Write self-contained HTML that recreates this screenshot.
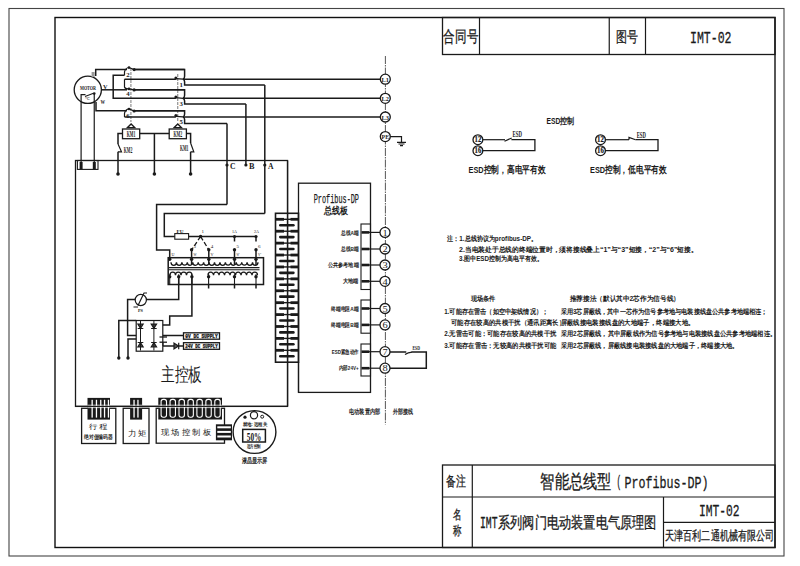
<!DOCTYPE html><html><head><meta charset="utf-8"><style>html,body{margin:0;padding:0;background:#fff;width:800px;height:566px;overflow:hidden}svg{display:block}</style></head><body>
<svg width="800" height="566" viewBox="0 0 800 566" font-family="Liberation Sans, sans-serif">
<rect x="0" y="0" width="800" height="566" fill="#fff"/>
<rect x="9" y="8.5" width="775" height="547.5" fill="none" stroke="#444" stroke-width="1.1" />
<rect x="55" y="17.5" width="720" height="530" fill="none" stroke="#111" stroke-width="1.4" />
<rect x="442.5" y="17.5" width="332.5" height="37" fill="none" stroke="#1a1a1a" stroke-width="1.3" />
<line x1="479.5" y1="17.5" x2="479.5" y2="54.5" stroke="#1a1a1a" stroke-width="1.2" />
<line x1="609.25" y1="17.5" x2="609.25" y2="54.5" stroke="#1a1a1a" stroke-width="1.2" />
<line x1="645.5" y1="17.5" x2="645.5" y2="54.5" stroke="#1a1a1a" stroke-width="1.2" />
<text x="443.4" y="42.27" font-family="Liberation Sans" font-size="16.3" font-weight="normal" fill="#1a1a1a" text-anchor="start" stroke="#1a1a1a" stroke-width="0.3" textLength="34.7" lengthAdjust="spacingAndGlyphs">合同号</text>
<text x="616.4" y="42.40" font-family="Liberation Sans" font-size="15" font-weight="normal" fill="#1a1a1a" text-anchor="start" stroke="#1a1a1a" stroke-width="0.3" textLength="21.9" lengthAdjust="spacingAndGlyphs">图号</text>
<text x="690" y="43.23" font-family="Liberation Mono" font-size="17.3" font-weight="normal" fill="#1a1a1a" text-anchor="start" stroke="#1a1a1a" stroke-width="0.3" textLength="41.5" lengthAdjust="spacingAndGlyphs">IMT-02</text>
<rect x="442.5" y="465" width="332.5" height="82.5" fill="none" stroke="#1a1a1a" stroke-width="1.3" />
<line x1="442.5" y1="497" x2="775" y2="497" stroke="#1a1a1a" stroke-width="1.2" />
<line x1="472.3" y1="465" x2="472.3" y2="547.5" stroke="#1a1a1a" stroke-width="1.2" />
<line x1="663.5" y1="497" x2="663.5" y2="547.5" stroke="#1a1a1a" stroke-width="1.2" />
<line x1="663.5" y1="522.3" x2="775" y2="522.3" stroke="#1a1a1a" stroke-width="1.2" />
<text x="446.4" y="486.04" font-family="Liberation Sans" font-size="14" font-weight="normal" fill="#1a1a1a" text-anchor="start" stroke="#1a1a1a" stroke-width="0.3" textLength="19.8" lengthAdjust="spacingAndGlyphs">备注</text>
<text x="452.7" y="519.29" font-family="Liberation Sans" font-size="13.3" font-weight="normal" fill="#1a1a1a" text-anchor="start" stroke="#1a1a1a" stroke-width="0.3" textLength="8.5" lengthAdjust="spacingAndGlyphs">名</text>
<text x="452.7" y="534.79" font-family="Liberation Sans" font-size="13.3" font-weight="normal" fill="#1a1a1a" text-anchor="start" stroke="#1a1a1a" stroke-width="0.3" textLength="8.5" lengthAdjust="spacingAndGlyphs">称</text>
<text x="540.4" y="487.77" font-family="Liberation Sans" font-size="18.8" font-weight="normal" fill="#1a1a1a" text-anchor="start" stroke="#1a1a1a" stroke-width="0.3" textLength="71" lengthAdjust="spacingAndGlyphs">智能总线型</text>
<text x="616.5" y="487.32" font-family="Liberation Mono" font-size="17" font-weight="normal" fill="#1a1a1a" text-anchor="start" stroke="#1a1a1a" stroke-width="0.3" textLength="4.8" lengthAdjust="spacingAndGlyphs">(</text>
<text x="624.6" y="487.52" font-family="Liberation Mono" font-size="17" font-weight="normal" fill="#1a1a1a" text-anchor="start" stroke="#1a1a1a" stroke-width="0.3" textLength="84" lengthAdjust="spacingAndGlyphs">Profibus-DP)</text>
<text x="480" y="527.96" font-family="Liberation Mono" font-size="16" font-weight="normal" fill="#1a1a1a" text-anchor="start" stroke="#1a1a1a" stroke-width="0.35" textLength="17.5" lengthAdjust="spacingAndGlyphs">IMT</text>
<text x="498" y="528.37" font-family="Liberation Sans" font-size="16.3" font-weight="normal" fill="#1a1a1a" text-anchor="start" stroke="#1a1a1a" stroke-width="0.3" textLength="158.5" lengthAdjust="spacingAndGlyphs">系列阀门电动装置电气原理图</text>
<text x="699" y="515.73" font-family="Liberation Mono" font-size="17.3" font-weight="normal" fill="#1a1a1a" text-anchor="start" stroke="#1a1a1a" stroke-width="0.3" textLength="40.6" lengthAdjust="spacingAndGlyphs">IMT-02</text>
<text x="665.2" y="539.68" font-family="Liberation Sans" font-size="13" font-weight="normal" fill="#1a1a1a" text-anchor="start" stroke="#1a1a1a" stroke-width="0.3" textLength="108.8" lengthAdjust="spacingAndGlyphs">天津百利二通机械有限公司</text>
<circle cx="87.8" cy="89.8" r="13.6" fill="none" stroke="#1a1a1a" stroke-width="1.3"/>
<text x="80" y="89.82" font-family="Liberation Serif" font-size="7" font-weight="bold" fill="#1a1a1a" text-anchor="start"  textLength="16" lengthAdjust="spacingAndGlyphs">MOTOR</text>
<polyline points="81.1,162 81.1,94.6 85.5,94.6" fill="none" stroke="#1a1a1a" stroke-width="1.2" stroke-linejoin="miter" />
<path d="M85,96.5 L93.5,93.2" fill="none" stroke="#1a1a1a" stroke-width="1.1" />
<polyline points="94.25,93.5 94.25,162" fill="none" stroke="#1a1a1a" stroke-width="1.2" stroke-linejoin="miter" />
<circle cx="94.25" cy="93.6" r="1.3" fill="#1a1a1a"/>
<text x="84.5" y="99.64" font-family="Liberation Sans" font-size="4" font-weight="normal" fill="#1a1a1a" text-anchor="start"  textLength="5" lengthAdjust="spacingAndGlyphs">℃</text>
<rect x="91.6" y="72" width="3" height="5" fill="#999"/>
<text x="103" y="88.82" font-family="Liberation Serif" font-size="7" font-weight="bold" fill="#1a1a1a" text-anchor="start"  textLength="4.5" lengthAdjust="spacingAndGlyphs">V</text>
<text x="100.5" y="103.82" font-family="Liberation Serif" font-size="7" font-weight="bold" fill="#1a1a1a" text-anchor="start"  textLength="4.5" lengthAdjust="spacingAndGlyphs">W</text>
<line x1="130.9" y1="68" x2="130.9" y2="122" stroke="#999" stroke-width="1.3" stroke-dasharray="3,1"/>
<line x1="177.7" y1="74" x2="177.7" y2="122" stroke="#999" stroke-width="1.3" stroke-dasharray="3,1"/>
<polyline points="95.7,76 95.7,69.4 127,69.4" fill="none" stroke="#1a1a1a" stroke-width="1.5" stroke-linejoin="miter" />
<line x1="101.5" y1="89.8" x2="127" y2="89.8" stroke="#1a1a1a" stroke-width="1.5" />
<polyline points="96,102 96,110.8 127,110.8" fill="none" stroke="#1a1a1a" stroke-width="1.5" stroke-linejoin="miter" />
<path d="M124.5,75.2 L124.5,71.9 Q125.5,67.80000000000001 129,67.5 L134.1,69.60000000000001" fill="none" stroke="#1a1a1a" stroke-width="1.2" />
<circle cx="129" cy="67.60000000000001" r="1.3" fill="#1a1a1a"/>
<circle cx="134.1" cy="69.60000000000001" r="1.6" fill="#1a1a1a"/>
<text x="126.3" y="76.52" font-family="Liberation Serif" font-size="7" font-weight="bold" fill="#1a1a1a" text-anchor="start"  textLength="3.4" lengthAdjust="spacingAndGlyphs">2</text>
<path d="M124.5,116.9 L124.5,113.3 Q125.5,109.2 129,108.89999999999999 L134.1,111.0" fill="none" stroke="#1a1a1a" stroke-width="1.2" />
<circle cx="129" cy="109.0" r="1.3" fill="#1a1a1a"/>
<circle cx="134.1" cy="111.0" r="1.6" fill="#1a1a1a"/>
<text x="126.3" y="117.92" font-family="Liberation Serif" font-size="7" font-weight="bold" fill="#1a1a1a" text-anchor="start"  textLength="3.4" lengthAdjust="spacingAndGlyphs">6</text>
<path d="M124.5,79.3 L124.5,87 Q125,89.2 129,88.9 L134.1,89.9" fill="none" stroke="#1a1a1a" stroke-width="1.2" />
<circle cx="129" cy="88.9" r="1.3" fill="#1a1a1a"/>
<circle cx="134.1" cy="89.9" r="1.6" fill="#1a1a1a"/>
<text x="126.3" y="96.32" font-family="Liberation Serif" font-size="7" font-weight="bold" fill="#1a1a1a" text-anchor="start"  textLength="3.4" lengthAdjust="spacingAndGlyphs">4</text>
<line x1="134.1" y1="69.4" x2="184.6" y2="69.4" stroke="#1a1a1a" stroke-width="1.5" />
<line x1="134.1" y1="89.8" x2="184.6" y2="89.8" stroke="#1a1a1a" stroke-width="1.5" />
<line x1="134.1" y1="110.8" x2="184.6" y2="110.8" stroke="#1a1a1a" stroke-width="1.5" />
<polyline points="124.5,75.2 113.2,75.2 113.2,98.3 175.9,98.3" fill="none" stroke="#1a1a1a" stroke-width="1.5" stroke-linejoin="miter" />
<line x1="124.5" y1="79.2" x2="175.9" y2="79.2" stroke="#1a1a1a" stroke-width="1.5" />
<line x1="124.5" y1="116.9" x2="175.9" y2="116.9" stroke="#1a1a1a" stroke-width="1.5" />
<circle cx="175.9" cy="77.9" r="1.5" fill="#1a1a1a"/>
<line x1="175.9" y1="78.60000000000001" x2="183" y2="79.2" stroke="#1a1a1a" stroke-width="1.2" />
<path d="M134,69.4 L184.6,69.4 L184.6,76.2 Q184.6,78.60000000000001 183,79.2" fill="none" stroke="#1a1a1a" stroke-width="1.5" />
<path d="M183,79.2 Q184.6,80.0 184.6,81.8 L184.6,85 L264.8,85" fill="none" stroke="#1a1a1a" stroke-width="1.5" />
<text x="179.6" y="86.52" font-family="Liberation Serif" font-size="7" font-weight="bold" fill="#1a1a1a" text-anchor="start"  textLength="3.4" lengthAdjust="spacingAndGlyphs">1</text>
<circle cx="175.9" cy="97.0" r="1.5" fill="#1a1a1a"/>
<line x1="175.9" y1="97.7" x2="183" y2="98.3" stroke="#1a1a1a" stroke-width="1.2" />
<path d="M134,89.8 L184.6,89.8 L184.6,95.3 Q184.6,97.7 183,98.3" fill="none" stroke="#1a1a1a" stroke-width="1.5" />
<path d="M183,98.3 Q184.6,99.1 184.6,100.89999999999999 L184.6,104 L245.9,104" fill="none" stroke="#1a1a1a" stroke-width="1.5" />
<text x="179.6" y="105.62" font-family="Liberation Serif" font-size="7" font-weight="bold" fill="#1a1a1a" text-anchor="start"  textLength="3.4" lengthAdjust="spacingAndGlyphs">3</text>
<circle cx="175.9" cy="115.60000000000001" r="1.5" fill="#1a1a1a"/>
<line x1="175.9" y1="116.30000000000001" x2="183" y2="116.9" stroke="#1a1a1a" stroke-width="1.2" />
<path d="M134,110.8 L184.6,110.8 L184.6,113.9 Q184.6,116.30000000000001 183,116.9" fill="none" stroke="#1a1a1a" stroke-width="1.5" />
<path d="M183,116.9 Q184.6,117.7 184.6,119.5 L184.6,123.5 L227,123.5" fill="none" stroke="#1a1a1a" stroke-width="1.5" />
<text x="179.6" y="124.22" font-family="Liberation Serif" font-size="7" font-weight="bold" fill="#1a1a1a" text-anchor="start"  textLength="3.4" lengthAdjust="spacingAndGlyphs">5</text>
<line x1="183" y1="79.2" x2="380.2" y2="79.2" stroke="#1a1a1a" stroke-width="1.5" />
<line x1="183" y1="98.3" x2="380.2" y2="98.3" stroke="#1a1a1a" stroke-width="1.5" />
<line x1="183" y1="116.9" x2="380.2" y2="116.9" stroke="#1a1a1a" stroke-width="1.5" />
<line x1="264.8" y1="85" x2="264.8" y2="213.6" stroke="#1a1a1a" stroke-width="1.5" />
<line x1="245.9" y1="104" x2="245.9" y2="165" stroke="#1a1a1a" stroke-width="1.5" />
<line x1="227" y1="123.5" x2="227" y2="204.4" stroke="#1a1a1a" stroke-width="1.5" />
<circle cx="227" cy="165" r="1.6" fill="#1a1a1a"/>
<circle cx="245.9" cy="165" r="1.6" fill="#1a1a1a"/>
<circle cx="264.8" cy="165" r="1.6" fill="#1a1a1a"/>
<text x="230" y="169.24" font-family="Liberation Serif" font-size="9" font-weight="bold" fill="#1a1a1a" text-anchor="start"  textLength="5.5" lengthAdjust="spacingAndGlyphs">C</text>
<text x="249" y="169.24" font-family="Liberation Serif" font-size="9" font-weight="bold" fill="#1a1a1a" text-anchor="start"  textLength="5.5" lengthAdjust="spacingAndGlyphs">B</text>
<text x="268" y="169.24" font-family="Liberation Serif" font-size="9" font-weight="bold" fill="#1a1a1a" text-anchor="start"  textLength="5.5" lengthAdjust="spacingAndGlyphs">A</text>
<path d="M127.5,127.6 L131.1,123.9 L134.7,127.6 Z" fill="none" stroke="#1a1a1a" stroke-width="1.4" />
<rect x="122.5" y="129" width="17.2" height="9.7" fill="none" stroke="#1a1a1a" stroke-width="1.3" />
<text x="126.69999999999999" y="136.50" font-family="Liberation Serif" font-size="7.5" font-weight="bold" fill="#1a1a1a" text-anchor="start"  textLength="8.7" lengthAdjust="spacingAndGlyphs">KM1</text>
<path d="M174.20000000000002,127.6 L177.8,123.9 L181.4,127.6 Z" fill="none" stroke="#1a1a1a" stroke-width="1.4" />
<rect x="169.20000000000002" y="129" width="17.2" height="9.7" fill="none" stroke="#1a1a1a" stroke-width="1.3" />
<text x="173.4" y="136.50" font-family="Liberation Serif" font-size="7.5" font-weight="bold" fill="#1a1a1a" text-anchor="start"  textLength="8.7" lengthAdjust="spacingAndGlyphs">KM2</text>
<line x1="139.7" y1="133.5" x2="169.2" y2="133.5" stroke="#1a1a1a" stroke-width="1.5" />
<line x1="154.4" y1="133.5" x2="154.4" y2="174" stroke="#1a1a1a" stroke-width="1.5" />
<circle cx="154.4" cy="174" r="1.8" fill="#1a1a1a"/>
<polyline points="122.5,133.5 118,133.5 118,144" fill="none" stroke="#1a1a1a" stroke-width="1.5" stroke-linejoin="miter" />
<path d="M118,144 L121.5,151.8 L118,151.8" fill="none" stroke="#1a1a1a" stroke-width="1.2" />
<line x1="118" y1="151.8" x2="118" y2="174" stroke="#1a1a1a" stroke-width="1.5" />
<circle cx="118" cy="174" r="1.8" fill="#1a1a1a"/>
<text x="123.8" y="152.88" font-family="Liberation Serif" font-size="8" font-weight="bold" fill="#1a1a1a" text-anchor="start"  textLength="8.5" lengthAdjust="spacingAndGlyphs">KM2</text>
<polyline points="186.4,133.5 190.6,133.5 190.6,143" fill="none" stroke="#1a1a1a" stroke-width="1.5" stroke-linejoin="miter" />
<path d="M190.6,143 L193.8,151.8 L190.6,151.8" fill="none" stroke="#1a1a1a" stroke-width="1.2" />
<line x1="190.6" y1="151.8" x2="190.6" y2="174" stroke="#1a1a1a" stroke-width="1.5" />
<circle cx="190.6" cy="174" r="1.8" fill="#1a1a1a"/>
<text x="180" y="151.38" font-family="Liberation Serif" font-size="8" font-weight="bold" fill="#1a1a1a" text-anchor="start"  textLength="8.5" lengthAdjust="spacingAndGlyphs">KM1</text>
<rect x="75.5" y="160.5" width="212" height="245.9" fill="none" stroke="#1a1a1a" stroke-width="1.3" />
<rect x="77.4" y="160.5" width="20.6" height="8.9" fill="none" stroke="#1a1a1a" stroke-width="1.1" />
<rect x="79.6" y="162" width="3" height="7.4" fill="#1a1a1a"/>
<rect x="92.8" y="162" width="3" height="7.4" fill="#1a1a1a"/>
<polyline points="227,204.4 156.6,204.4 156.6,250 169.7,250 169.7,259" fill="none" stroke="#1a1a1a" stroke-width="1.5" stroke-linejoin="miter" />
<polyline points="264.8,213.6 164.3,213.6 164.3,236.5 174.8,236.5" fill="none" stroke="#1a1a1a" stroke-width="1.5" stroke-linejoin="miter" />
<rect x="174.8" y="233.6" width="13.8" height="5.6" fill="none" stroke="#1a1a1a" stroke-width="1.1" />
<text x="176.5" y="232.80" font-family="Liberation Serif" font-size="5" font-weight="bold" fill="#1a1a1a" text-anchor="start"  textLength="7" lengthAdjust="spacingAndGlyphs">FU</text>
<line x1="188.6" y1="236.5" x2="256" y2="236.5" stroke="#1a1a1a" stroke-width="1.5" />
<circle cx="200.6" cy="236.5" r="1.7" fill="#1a1a1a"/>
<circle cx="234.5" cy="236.5" r="1.6" fill="#1a1a1a"/>
<circle cx="256" cy="236.5" r="1.6" fill="#1a1a1a"/>
<text x="201.5" y="233.12" font-family="Liberation Serif" font-size="4.5" font-weight="normal" fill="#1a1a1a" text-anchor="start"  textLength="2.5" lengthAdjust="spacingAndGlyphs">1</text>
<text x="232" y="233.12" font-family="Liberation Serif" font-size="4.5" font-weight="normal" fill="#1a1a1a" text-anchor="start"  textLength="5" lengthAdjust="spacingAndGlyphs">1A</text>
<text x="254" y="233.12" font-family="Liberation Serif" font-size="4.5" font-weight="normal" fill="#1a1a1a" text-anchor="start"  textLength="5" lengthAdjust="spacingAndGlyphs">2A</text>
<path d="M200.6,236.5 L191.6,249.8 M200.6,236.5 L208.8,249.8" fill="none" stroke="#1a1a1a" stroke-width="1.3" stroke-dasharray="4.5,2.2"/>
<line x1="234.5" y1="236.5" x2="234.5" y2="241.5" stroke="#1a1a1a" stroke-width="1.5" />
<line x1="256" y1="236.5" x2="256" y2="241.5" stroke="#1a1a1a" stroke-width="1.5" />
<circle cx="191.6" cy="249.8" r="1.7" fill="#1a1a1a"/>
<line x1="191.6" y1="249.8" x2="191.6" y2="265" stroke="#1a1a1a" stroke-width="1.5" />
<text x="193.6" y="248.12" font-family="Liberation Serif" font-size="4.5" font-weight="normal" fill="#1a1a1a" text-anchor="start"  textLength="2.5" lengthAdjust="spacingAndGlyphs">3</text>
<circle cx="208.8" cy="249.8" r="1.7" fill="#1a1a1a"/>
<line x1="208.8" y1="249.8" x2="208.8" y2="265" stroke="#1a1a1a" stroke-width="1.5" />
<text x="210.8" y="248.12" font-family="Liberation Serif" font-size="4.5" font-weight="normal" fill="#1a1a1a" text-anchor="start"  textLength="2.5" lengthAdjust="spacingAndGlyphs">4</text>
<circle cx="234.5" cy="249.8" r="1.7" fill="#1a1a1a"/>
<line x1="234.5" y1="249.8" x2="234.5" y2="265" stroke="#1a1a1a" stroke-width="1.5" />
<text x="236.5" y="248.12" font-family="Liberation Serif" font-size="4.5" font-weight="normal" fill="#1a1a1a" text-anchor="start"  textLength="2.5" lengthAdjust="spacingAndGlyphs">5</text>
<circle cx="256" cy="249.8" r="1.7" fill="#1a1a1a"/>
<line x1="256" y1="249.8" x2="256" y2="265" stroke="#1a1a1a" stroke-width="1.5" />
<text x="258" y="248.12" font-family="Liberation Serif" font-size="4.5" font-weight="normal" fill="#1a1a1a" text-anchor="start"  textLength="2.5" lengthAdjust="spacingAndGlyphs">6</text>
<text x="171.5" y="255.62" font-family="Liberation Serif" font-size="4.5" font-weight="normal" fill="#1a1a1a" text-anchor="start"  textLength="3" lengthAdjust="spacingAndGlyphs">U</text>
<text x="193.5" y="255.62" font-family="Liberation Serif" font-size="4.5" font-weight="normal" fill="#1a1a1a" text-anchor="start"  textLength="3" lengthAdjust="spacingAndGlyphs">W</text>
<text x="210.5" y="255.62" font-family="Liberation Serif" font-size="4.5" font-weight="normal" fill="#1a1a1a" text-anchor="start"  textLength="3" lengthAdjust="spacingAndGlyphs">V</text>
<text x="236.5" y="255.62" font-family="Liberation Serif" font-size="4.5" font-weight="normal" fill="#1a1a1a" text-anchor="start"  textLength="3" lengthAdjust="spacingAndGlyphs">W'</text>
<text x="258" y="255.62" font-family="Liberation Serif" font-size="4.5" font-weight="normal" fill="#1a1a1a" text-anchor="start"  textLength="3" lengthAdjust="spacingAndGlyphs">V'</text>
<rect x="168.2" y="257.7" width="95.3" height="26.8" fill="none" stroke="#1a1a1a" stroke-width="1.5" />
<circle cx="169.7" cy="259.2" r="1.7" fill="#1a1a1a"/>
<circle cx="191.6" cy="259.2" r="1.7" fill="#1a1a1a"/>
<circle cx="208.8" cy="259.2" r="1.7" fill="#1a1a1a"/>
<circle cx="234.5" cy="259.2" r="1.7" fill="#1a1a1a"/>
<circle cx="256" cy="259.2" r="1.7" fill="#1a1a1a"/>
<path d="M171,262.3 A2.71875,3.0 0 0 0 176.44,262.3 A2.71875,3.0 0 0 0 181.88,262.3 A2.71875,3.0 0 0 0 187.31,262.3 A2.71875,3.0 0 0 0 192.75,262.3 A2.71875,3.0 0 0 0 198.19,262.3 A2.71875,3.0 0 0 0 203.62,262.3 A2.71875,3.0 0 0 0 209.06,262.3 A2.71875,3.0 0 0 0 214.50,262.3 A2.71875,3.0 0 0 0 219.94,262.3 A2.71875,3.0 0 0 0 225.38,262.3 A2.71875,3.0 0 0 0 230.81,262.3 A2.71875,3.0 0 0 0 236.25,262.3 A2.71875,3.0 0 0 0 241.69,262.3 A2.71875,3.0 0 0 0 247.12,262.3 A2.71875,3.0 0 0 0 252.56,262.3 A2.71875,3.0 0 0 0 258.00,262.3" fill="none" stroke="#1a1a1a" stroke-width="1.3" />
<line x1="169" y1="267.6" x2="259.5" y2="267.6" stroke="#1a1a1a" stroke-width="1.1" />
<line x1="169" y1="269.8" x2="259.5" y2="269.8" stroke="#1a1a1a" stroke-width="1.1" />
<path d="M170,275.2 A2.75,3.0 0 0 1 175.50,275.2 A2.75,3.0 0 0 1 181.00,275.2 A2.75,3.0 0 0 1 186.50,275.2 A2.75,3.0 0 0 1 192.00,275.2" fill="none" stroke="#1a1a1a" stroke-width="1.3" />
<path d="M208,275.2 A2.75,3.0 0 0 1 213.50,275.2 A2.75,3.0 0 0 1 219.00,275.2 A2.75,3.0 0 0 1 224.50,275.2 A2.75,3.0 0 0 1 230.00,275.2 A2.75,3.0 0 0 1 235.50,275.2 A2.75,3.0 0 0 1 241.00,275.2 A2.75,3.0 0 0 1 246.50,275.2 A2.75,3.0 0 0 1 252.00,275.2 A2.75,3.0 0 0 1 257.50,275.2" fill="none" stroke="#1a1a1a" stroke-width="1.3" />
<circle cx="169.7" cy="276.7" r="1.7" fill="#1a1a1a"/>
<line x1="169.7" y1="274.2" x2="169.7" y2="284.5" stroke="#1a1a1a" stroke-width="1.1" />
<circle cx="178.7" cy="276.7" r="1.7" fill="#1a1a1a"/>
<line x1="178.7" y1="274.2" x2="178.7" y2="284.5" stroke="#1a1a1a" stroke-width="1.1" />
<circle cx="191.9" cy="276.7" r="1.7" fill="#1a1a1a"/>
<line x1="191.9" y1="274.2" x2="191.9" y2="284.5" stroke="#1a1a1a" stroke-width="1.1" />
<circle cx="208.6" cy="276.7" r="1.7" fill="#1a1a1a"/>
<line x1="208.6" y1="274.2" x2="208.6" y2="284.5" stroke="#1a1a1a" stroke-width="1.1" />
<circle cx="234.5" cy="276.7" r="1.7" fill="#1a1a1a"/>
<line x1="234.5" y1="274.2" x2="234.5" y2="284.5" stroke="#1a1a1a" stroke-width="1.1" />
<circle cx="256" cy="276.7" r="1.7" fill="#1a1a1a"/>
<line x1="256" y1="274.2" x2="256" y2="284.5" stroke="#1a1a1a" stroke-width="1.1" />
<line x1="208.6" y1="284.5" x2="208.6" y2="288.5" stroke="#1a1a1a" stroke-width="1.5" />
<line x1="234.5" y1="284.5" x2="234.5" y2="288.5" stroke="#1a1a1a" stroke-width="1.5" />
<line x1="256" y1="284.5" x2="256" y2="288.5" stroke="#1a1a1a" stroke-width="1.5" />
<polyline points="178.7,276.7 178.7,299.6 146.5,299.6" fill="none" stroke="#1a1a1a" stroke-width="1.5" stroke-linejoin="miter" />
<circle cx="140.8" cy="300" r="5.6" fill="none" stroke="#1a1a1a" stroke-width="1.2"/>
<path d="M138,305.5 L144,293 L147,293 M133.5,307 L138,307" fill="none" stroke="#1a1a1a" stroke-width="1.2" />
<text x="138" y="311.80" font-family="Liberation Serif" font-size="5" font-weight="bold" fill="#1a1a1a" text-anchor="start"  textLength="5" lengthAdjust="spacingAndGlyphs">PS</text>
<polyline points="135.2,299.6 127.6,299.6 127.6,335.6 136.2,335.6" fill="none" stroke="#1a1a1a" stroke-width="1.5" stroke-linejoin="miter" />
<polyline points="191.9,276.7 191.9,316 169.7,316 169.7,325 162.8,325" fill="none" stroke="#1a1a1a" stroke-width="1.5" stroke-linejoin="miter" />
<rect x="136.2" y="320.5" width="26.6" height="30.7" fill="none" stroke="#1a1a1a" stroke-width="1.2" />
<path d="M137.9,324.2 L143.1,324.2 L140.5,328.3 Z M137.7,328.5 L143.3,328.5" fill="#555" stroke="#1a1a1a" stroke-width="1.2" />
<path d="M151.3,324.2 L156.5,324.2 L153.9,328.3 Z M151.1,328.5 L156.70000000000002,328.5" fill="#555" stroke="#1a1a1a" stroke-width="1.2" />
<path d="M137.9,346.8 L143.1,346.8 L140.5,342.7 Z M137.7,342.5 L143.3,342.5" fill="#555" stroke="#1a1a1a" stroke-width="1.2" />
<path d="M151.3,346.8 L156.5,346.8 L153.9,342.7 Z M151.1,342.5 L156.70000000000002,342.5" fill="#555" stroke="#1a1a1a" stroke-width="1.2" />
<line x1="140.5" y1="321" x2="140.5" y2="350.5" stroke="#1a1a1a" stroke-width="1.0" />
<line x1="153.9" y1="321" x2="153.9" y2="350.5" stroke="#1a1a1a" stroke-width="1.0" />
<polyline points="118.8,358 118.8,320.5 136.2,320.5" fill="none" stroke="#1a1a1a" stroke-width="1.5" stroke-linejoin="miter" />
<polyline points="128,358 128,339 136.2,339" fill="none" stroke="#1a1a1a" stroke-width="1.5" stroke-linejoin="miter" />
<circle cx="118.8" cy="358" r="1.7" fill="#1a1a1a"/>
<circle cx="128" cy="358" r="1.7" fill="#1a1a1a"/>
<line x1="159.5" y1="337" x2="167" y2="337" stroke="#1a1a1a" stroke-width="1.3" />
<line x1="159.5" y1="342.2" x2="167" y2="342.2" stroke="#1a1a1a" stroke-width="1.3" />
<line x1="162.8" y1="335.5" x2="183.5" y2="335.5" stroke="#1a1a1a" stroke-width="1.5" />
<line x1="163" y1="342.2" x2="163" y2="346" stroke="#1a1a1a" stroke-width="1.1" />
<line x1="163" y1="346" x2="183.5" y2="346" stroke="#1a1a1a" stroke-width="1.5" />
<path d="M174,343 L174,349 L178.5,346 Z M178.7,342.8 L178.7,349.2" fill="#555" stroke="#1a1a1a" stroke-width="1.2" />
<rect x="183.5" y="332.8" width="36" height="6.4" fill="none" stroke="#1a1a1a" stroke-width="1.3" />
<text x="185.3" y="338.16" font-family="Liberation Mono" font-size="6" font-weight="bold" fill="#1a1a1a" text-anchor="start" stroke="#1a1a1a" stroke-width="0.35" textLength="32.5" lengthAdjust="spacingAndGlyphs">0V DC SUPPLY</text>
<rect x="183.5" y="342.7" width="36" height="6.6" fill="none" stroke="#1a1a1a" stroke-width="1.3" />
<text x="185.3" y="348.16" font-family="Liberation Mono" font-size="6" font-weight="bold" fill="#1a1a1a" text-anchor="start" stroke="#1a1a1a" stroke-width="0.35" textLength="32.5" lengthAdjust="spacingAndGlyphs">24V DC SUPPLY</text>
<text x="160.9" y="381.44" font-family="Liberation Sans" font-size="19" font-weight="normal" fill="#1a1a1a" text-anchor="start"  textLength="40.9" lengthAdjust="spacingAndGlyphs">主控板</text>
<rect x="275.5" y="213.3" width="23" height="148.9" fill="none" stroke="#1a1a1a" stroke-width="1.6" />
<rect x="275.5" y="217.9" width="8.5" height="2.8" fill="#1a1a1a"/>
<rect x="290.5" y="217.9" width="8" height="2.8" fill="#1a1a1a"/>
<rect x="283.5" y="218.60000000000002" width="7.5" height="1.4" fill="#1a1a1a"/>
<rect x="279" y="223.9" width="15.7" height="2.6" rx="1.3" fill="#1a1a1a"/>
<rect x="275.5" y="229.81" width="8.5" height="2.8" fill="#1a1a1a"/>
<rect x="290.5" y="229.81" width="8" height="2.8" fill="#1a1a1a"/>
<rect x="283.5" y="230.51000000000002" width="7.5" height="1.4" fill="#1a1a1a"/>
<rect x="279" y="235.81" width="15.7" height="2.6" rx="1.3" fill="#1a1a1a"/>
<rect x="275.5" y="241.72" width="8.5" height="2.8" fill="#1a1a1a"/>
<rect x="290.5" y="241.72" width="8" height="2.8" fill="#1a1a1a"/>
<rect x="283.5" y="242.42000000000002" width="7.5" height="1.4" fill="#1a1a1a"/>
<rect x="279" y="247.72" width="15.7" height="2.6" rx="1.3" fill="#1a1a1a"/>
<rect x="275.5" y="253.63000000000002" width="8.5" height="2.8" fill="#1a1a1a"/>
<rect x="290.5" y="253.63000000000002" width="8" height="2.8" fill="#1a1a1a"/>
<rect x="283.5" y="254.33000000000004" width="7.5" height="1.4" fill="#1a1a1a"/>
<rect x="279" y="259.63000000000005" width="15.7" height="2.6" rx="1.3" fill="#1a1a1a"/>
<rect x="275.5" y="265.54" width="8.5" height="2.8" fill="#1a1a1a"/>
<rect x="290.5" y="265.54" width="8" height="2.8" fill="#1a1a1a"/>
<rect x="283.5" y="266.24" width="7.5" height="1.4" fill="#1a1a1a"/>
<rect x="279" y="271.54" width="15.7" height="2.6" rx="1.3" fill="#1a1a1a"/>
<rect x="275.5" y="277.45000000000005" width="8.5" height="2.8" fill="#1a1a1a"/>
<rect x="290.5" y="277.45000000000005" width="8" height="2.8" fill="#1a1a1a"/>
<rect x="283.5" y="278.15000000000003" width="7.5" height="1.4" fill="#1a1a1a"/>
<rect x="279" y="283.45000000000005" width="15.7" height="2.6" rx="1.3" fill="#1a1a1a"/>
<rect x="275.5" y="289.36" width="8.5" height="2.8" fill="#1a1a1a"/>
<rect x="290.5" y="289.36" width="8" height="2.8" fill="#1a1a1a"/>
<rect x="283.5" y="290.06" width="7.5" height="1.4" fill="#1a1a1a"/>
<rect x="279" y="295.36" width="15.7" height="2.6" rx="1.3" fill="#1a1a1a"/>
<rect x="275.5" y="301.27000000000004" width="8.5" height="2.8" fill="#1a1a1a"/>
<rect x="290.5" y="301.27000000000004" width="8" height="2.8" fill="#1a1a1a"/>
<rect x="283.5" y="301.97" width="7.5" height="1.4" fill="#1a1a1a"/>
<rect x="279" y="307.27000000000004" width="15.7" height="2.6" rx="1.3" fill="#1a1a1a"/>
<rect x="275.5" y="313.18000000000006" width="8.5" height="2.8" fill="#1a1a1a"/>
<rect x="290.5" y="313.18000000000006" width="8" height="2.8" fill="#1a1a1a"/>
<rect x="283.5" y="313.88000000000005" width="7.5" height="1.4" fill="#1a1a1a"/>
<rect x="279" y="319.18000000000006" width="15.7" height="2.6" rx="1.3" fill="#1a1a1a"/>
<rect x="275.5" y="325.09000000000003" width="8.5" height="2.8" fill="#1a1a1a"/>
<rect x="290.5" y="325.09000000000003" width="8" height="2.8" fill="#1a1a1a"/>
<rect x="283.5" y="325.79" width="7.5" height="1.4" fill="#1a1a1a"/>
<rect x="279" y="331.09000000000003" width="15.7" height="2.6" rx="1.3" fill="#1a1a1a"/>
<rect x="275.5" y="337.0" width="8.5" height="2.8" fill="#1a1a1a"/>
<rect x="290.5" y="337.0" width="8" height="2.8" fill="#1a1a1a"/>
<rect x="283.5" y="337.7" width="7.5" height="1.4" fill="#1a1a1a"/>
<rect x="279" y="343.0" width="15.7" height="2.6" rx="1.3" fill="#1a1a1a"/>
<rect x="275.5" y="348.91" width="8.5" height="2.8" fill="#1a1a1a"/>
<rect x="290.5" y="348.91" width="8" height="2.8" fill="#1a1a1a"/>
<rect x="283.5" y="349.61" width="7.5" height="1.4" fill="#1a1a1a"/>
<rect x="279" y="354.91" width="15.7" height="2.6" rx="1.3" fill="#1a1a1a"/>
<line x1="287.6" y1="160.5" x2="287.6" y2="406.4" stroke="#1a1a1a" stroke-width="1.3" />
<line x1="298.5" y1="362" x2="298.5" y2="392.4" stroke="#1a1a1a" stroke-width="1.2" />
<rect x="298.5" y="183.2" width="72" height="209.2" fill="none" stroke="#1a1a1a" stroke-width="1.3" />
<text x="313.7" y="202.50" font-family="Liberation Mono" font-size="12.5" font-weight="normal" fill="#1a1a1a" text-anchor="start" stroke="#1a1a1a" stroke-width="0.25" textLength="45.3" lengthAdjust="spacingAndGlyphs">Profibus-DP</text>
<text x="324" y="214.42" font-family="Liberation Sans" font-size="9.5" font-weight="bold" fill="#1a1a1a" text-anchor="start"  textLength="24" lengthAdjust="spacingAndGlyphs">总线板</text>
<rect x="361" y="224" width="9.5" height="65.5" fill="none" stroke="#1a1a1a" stroke-width="1.1" />
<rect x="361" y="300" width="9.5" height="33.19999999999999" fill="none" stroke="#1a1a1a" stroke-width="1.1" />
<rect x="361" y="344" width="9.5" height="32" fill="none" stroke="#1a1a1a" stroke-width="1.1" />
<rect x="361.5" y="231.1" width="7.8" height="2.6" fill="#1a1a1a"/>
<line x1="369" y1="232.4" x2="380" y2="232.4" stroke="#1a1a1a" stroke-width="1.2" />
<text x="341" y="234.56" font-family="Liberation Sans" font-size="6" font-weight="bold" fill="#1a1a1a" text-anchor="start"  textLength="17.600000000000023" lengthAdjust="spacingAndGlyphs">总线A端</text>
<rect x="361.5" y="247.7" width="7.8" height="2.6" fill="#1a1a1a"/>
<line x1="369" y1="249" x2="380" y2="249" stroke="#1a1a1a" stroke-width="1.2" />
<text x="341" y="251.16" font-family="Liberation Sans" font-size="6" font-weight="bold" fill="#1a1a1a" text-anchor="start"  textLength="17.600000000000023" lengthAdjust="spacingAndGlyphs">总线B端</text>
<rect x="361.5" y="263.7" width="7.8" height="2.6" fill="#1a1a1a"/>
<line x1="369" y1="265" x2="380" y2="265" stroke="#1a1a1a" stroke-width="1.2" />
<text x="328" y="267.16" font-family="Liberation Sans" font-size="6" font-weight="bold" fill="#1a1a1a" text-anchor="start"  textLength="30.600000000000023" lengthAdjust="spacingAndGlyphs">公共参考地端</text>
<rect x="361.5" y="280.0" width="7.8" height="2.6" fill="#1a1a1a"/>
<line x1="369" y1="281.3" x2="380" y2="281.3" stroke="#1a1a1a" stroke-width="1.2" />
<text x="343" y="283.46" font-family="Liberation Sans" font-size="6" font-weight="bold" fill="#1a1a1a" text-anchor="start"  textLength="15.600000000000023" lengthAdjust="spacingAndGlyphs">大地端</text>
<rect x="361.5" y="307.2" width="7.8" height="2.6" fill="#1a1a1a"/>
<line x1="369" y1="308.5" x2="380" y2="308.5" stroke="#1a1a1a" stroke-width="1.2" />
<text x="331" y="310.66" font-family="Liberation Sans" font-size="6" font-weight="bold" fill="#1a1a1a" text-anchor="start"  textLength="27.600000000000023" lengthAdjust="spacingAndGlyphs">终端电阻A端</text>
<rect x="361.5" y="323.59999999999997" width="7.8" height="2.6" fill="#1a1a1a"/>
<line x1="369" y1="324.9" x2="380" y2="324.9" stroke="#1a1a1a" stroke-width="1.2" />
<text x="331" y="327.06" font-family="Liberation Sans" font-size="6" font-weight="bold" fill="#1a1a1a" text-anchor="start"  textLength="27.600000000000023" lengthAdjust="spacingAndGlyphs">终端电阻B端</text>
<rect x="361.5" y="350.4" width="7.8" height="2.6" fill="#1a1a1a"/>
<line x1="369" y1="351.7" x2="380" y2="351.7" stroke="#1a1a1a" stroke-width="1.2" />
<text x="331.8" y="353.86" font-family="Liberation Sans" font-size="6" font-weight="bold" fill="#1a1a1a" text-anchor="start"  textLength="26.80000000000001" lengthAdjust="spacingAndGlyphs">ESD紧急动作</text>
<rect x="361.5" y="366.9" width="7.8" height="2.6" fill="#1a1a1a"/>
<line x1="369" y1="368.2" x2="380" y2="368.2" stroke="#1a1a1a" stroke-width="1.2" />
<text x="338.8" y="370.36" font-family="Liberation Sans" font-size="6" font-weight="bold" fill="#1a1a1a" text-anchor="start"  textLength="19.80000000000001" lengthAdjust="spacingAndGlyphs">内部24V+</text>
<line x1="385.4" y1="56" x2="385.4" y2="424.4" stroke="#444" stroke-width="0.9" stroke-dasharray="8,1,1.5,1"/>
<circle cx="385" cy="232.4" r="5.0" fill="#fff" stroke="#1a1a1a" stroke-width="1.3"/>
<text x="382.4" y="235.64" font-family="Liberation Serif" font-size="9" font-weight="normal" fill="#1a1a1a" text-anchor="start"  textLength="5.2" lengthAdjust="spacingAndGlyphs">1</text>
<circle cx="385" cy="249" r="5.0" fill="#fff" stroke="#1a1a1a" stroke-width="1.3"/>
<text x="382.4" y="252.24" font-family="Liberation Serif" font-size="9" font-weight="normal" fill="#1a1a1a" text-anchor="start"  textLength="5.2" lengthAdjust="spacingAndGlyphs">2</text>
<circle cx="385" cy="265" r="5.0" fill="#fff" stroke="#1a1a1a" stroke-width="1.3"/>
<text x="382.4" y="268.24" font-family="Liberation Serif" font-size="9" font-weight="normal" fill="#1a1a1a" text-anchor="start"  textLength="5.2" lengthAdjust="spacingAndGlyphs">3</text>
<circle cx="385" cy="281.3" r="5.0" fill="#fff" stroke="#1a1a1a" stroke-width="1.3"/>
<text x="382.4" y="284.54" font-family="Liberation Serif" font-size="9" font-weight="normal" fill="#1a1a1a" text-anchor="start"  textLength="5.2" lengthAdjust="spacingAndGlyphs">4</text>
<circle cx="385" cy="308.5" r="5.0" fill="#fff" stroke="#1a1a1a" stroke-width="1.3"/>
<text x="382.4" y="311.74" font-family="Liberation Serif" font-size="9" font-weight="normal" fill="#1a1a1a" text-anchor="start"  textLength="5.2" lengthAdjust="spacingAndGlyphs">5</text>
<circle cx="385" cy="324.9" r="5.0" fill="#fff" stroke="#1a1a1a" stroke-width="1.3"/>
<text x="382.4" y="328.14" font-family="Liberation Serif" font-size="9" font-weight="normal" fill="#1a1a1a" text-anchor="start"  textLength="5.2" lengthAdjust="spacingAndGlyphs">6</text>
<circle cx="385" cy="351.7" r="5.0" fill="#fff" stroke="#1a1a1a" stroke-width="1.3"/>
<text x="382.4" y="354.94" font-family="Liberation Serif" font-size="9" font-weight="normal" fill="#1a1a1a" text-anchor="start"  textLength="5.2" lengthAdjust="spacingAndGlyphs">7</text>
<circle cx="385" cy="368.2" r="5.0" fill="#fff" stroke="#1a1a1a" stroke-width="1.3"/>
<text x="382.4" y="371.44" font-family="Liberation Serif" font-size="9" font-weight="normal" fill="#1a1a1a" text-anchor="start"  textLength="5.2" lengthAdjust="spacingAndGlyphs">8</text>
<circle cx="385.3" cy="79.2" r="5.0" fill="#fff" stroke="#1a1a1a" stroke-width="1.3"/>
<text x="381.6" y="81.72" font-family="Liberation Serif" font-size="7" font-weight="bold" fill="#1a1a1a" text-anchor="start"  textLength="7.4" lengthAdjust="spacingAndGlyphs">L1</text>
<circle cx="385.3" cy="98.3" r="5.0" fill="#fff" stroke="#1a1a1a" stroke-width="1.3"/>
<text x="381.6" y="100.82" font-family="Liberation Serif" font-size="7" font-weight="bold" fill="#1a1a1a" text-anchor="start"  textLength="7.4" lengthAdjust="spacingAndGlyphs">L2</text>
<circle cx="385.3" cy="117" r="5.0" fill="#fff" stroke="#1a1a1a" stroke-width="1.3"/>
<text x="381.6" y="119.52" font-family="Liberation Serif" font-size="7" font-weight="bold" fill="#1a1a1a" text-anchor="start"  textLength="7.4" lengthAdjust="spacingAndGlyphs">L3</text>
<circle cx="385.3" cy="136.6" r="5.0" fill="#fff" stroke="#1a1a1a" stroke-width="1.3"/>
<text x="381.6" y="139.12" font-family="Liberation Serif" font-size="7" font-weight="bold" fill="#1a1a1a" text-anchor="start"  textLength="7.4" lengthAdjust="spacingAndGlyphs">PE</text>
<polyline points="390.3,136.6 401.5,136.6 401.5,142" fill="none" stroke="#1a1a1a" stroke-width="1.2" stroke-linejoin="miter" />
<path d="M397,142.3 L406,142.3 M398.5,144 L404.5,144 M400,145.6 L403,145.6" fill="none" stroke="#1a1a1a" stroke-width="1.2" />
<polyline points="390,352 405.6,352 405.6,352.8" fill="none" stroke="#1a1a1a" stroke-width="1.4" stroke-linejoin="miter" />
<path d="M405,354.5 Q408,352.6 412,352.2" fill="none" stroke="#1a1a1a" stroke-width="1.2" />
<polyline points="411.5,352 426.3,352 426.3,368.2 390,368.2" fill="none" stroke="#1a1a1a" stroke-width="1.5" stroke-linejoin="miter" />
<text x="412.5" y="350.16" font-family="Liberation Serif" font-size="6" font-weight="bold" fill="#1a1a1a" text-anchor="start"  textLength="7.5" lengthAdjust="spacingAndGlyphs">ESD</text>
<text x="349" y="413.94" font-family="Liberation Sans" font-size="6.5" font-weight="bold" fill="#1a1a1a" text-anchor="start"  textLength="31" lengthAdjust="spacingAndGlyphs">电动装置内部</text>
<text x="393" y="413.94" font-family="Liberation Sans" font-size="6.5" font-weight="bold" fill="#1a1a1a" text-anchor="start"  textLength="20" lengthAdjust="spacingAndGlyphs">外部接线</text>
<rect x="81.6" y="408.3" width="34.2" height="35.2" fill="none" stroke="#1a1a1a" stroke-width="1.3" />
<rect x="123.2" y="408.3" width="25.8" height="35.2" fill="none" stroke="#1a1a1a" stroke-width="1.3" />
<rect x="156.2" y="408.3" width="68.3" height="34.9" fill="none" stroke="#1a1a1a" stroke-width="1.3" />
<rect x="87.5" y="397.9" width="22.5" height="21.7" fill="#1a1a1a"/>
<rect x="91.5" y="399.8" width="1.3" height="17.8" fill="#fff"/>
<rect x="95.80000000000001" y="399.8" width="1.3" height="17.8" fill="#fff"/>
<rect x="100.10000000000001" y="399.8" width="1.3" height="17.8" fill="#fff"/>
<rect x="103.9" y="399.8" width="1.3" height="17.8" fill="#fff"/>
<rect x="107.80000000000001" y="399.8" width="1.3" height="17.8" fill="#fff"/>
<rect x="130.1" y="397.9" width="12" height="21.7" fill="#1a1a1a"/>
<rect x="133.4" y="399.8" width="1.3" height="17.8" fill="#fff"/>
<rect x="137.3" y="399.8" width="1.3" height="17.8" fill="#fff"/>
<rect x="158.3" y="397.7" width="63.7" height="21.8" fill="#1a1a1a"/>
<rect x="161.1" y="399.4" width="5.4" height="17.9" rx="2.2" fill="none" stroke="#fff" stroke-width="1.1"/>
<rect x="170.04999999999998" y="399.4" width="5.4" height="17.9" rx="2.2" fill="none" stroke="#fff" stroke-width="1.1"/>
<rect x="179.0" y="399.4" width="5.4" height="17.9" rx="2.2" fill="none" stroke="#fff" stroke-width="1.1"/>
<rect x="187.95" y="399.4" width="5.4" height="17.9" rx="2.2" fill="none" stroke="#fff" stroke-width="1.1"/>
<rect x="196.9" y="399.4" width="5.4" height="17.9" rx="2.2" fill="none" stroke="#fff" stroke-width="1.1"/>
<rect x="205.85" y="399.4" width="5.4" height="17.9" rx="2.2" fill="none" stroke="#fff" stroke-width="1.1"/>
<rect x="214.79999999999998" y="399.4" width="5.4" height="17.9" rx="2.2" fill="none" stroke="#fff" stroke-width="1.1"/>
<line x1="75.5" y1="406.4" x2="287.6" y2="406.4" stroke="#1a1a1a" stroke-width="1.3" />
<line x1="87.5" y1="405.2" x2="110" y2="405.2" stroke="#fff" stroke-width="0.7" />
<line x1="87.5" y1="407.6" x2="110" y2="407.6" stroke="#fff" stroke-width="0.7" />
<line x1="130.1" y1="405.2" x2="142.1" y2="405.2" stroke="#fff" stroke-width="0.7" />
<line x1="130.1" y1="407.6" x2="142.1" y2="407.6" stroke="#fff" stroke-width="0.7" />
<line x1="158.3" y1="405.2" x2="222" y2="405.2" stroke="#fff" stroke-width="0.7" />
<line x1="158.3" y1="407.6" x2="222" y2="407.6" stroke="#fff" stroke-width="0.7" />
<text x="88.5" y="429.02" font-family="Liberation Sans" font-size="7" font-weight="normal" fill="#1a1a1a" text-anchor="start"  textLength="19" lengthAdjust="spacingAndGlyphs">行   程</text>
<text x="84" y="438.58" font-family="Liberation Sans" font-size="5.5" font-weight="bold" fill="#1a1a1a" text-anchor="start"  textLength="28.6" lengthAdjust="spacingAndGlyphs">绝对值编码器</text>
<text x="127.5" y="435.70" font-family="Liberation Sans" font-size="7.5" font-weight="normal" fill="#1a1a1a" text-anchor="start"  textLength="19" lengthAdjust="spacingAndGlyphs">力    矩</text>
<text x="161" y="434.70" font-family="Liberation Sans" font-size="7.5" font-weight="normal" fill="#1a1a1a" text-anchor="start"  textLength="50" lengthAdjust="spacingAndGlyphs">现 场 控 制 板</text>
<rect x="215.9" y="424.3" width="16.1" height="16" fill="#1a1a1a"/>
<rect x="217.3" y="426.3" width="13.5" height="2.0" fill="#fff"/>
<rect x="217.3" y="430.90000000000003" width="13.5" height="2.0" fill="#fff"/>
<rect x="217.3" y="435.5" width="13.5" height="2.0" fill="#fff"/>
<circle cx="254.5" cy="432" r="21.4" fill="#fff" stroke="#1a1a1a" stroke-width="1.4"/>
<circle cx="245" cy="417.2" r="1.6" fill="#1a1a1a"/>
<circle cx="254" cy="415.3" r="3.6" fill="none" stroke="#1a1a1a" stroke-width="1.2"/>
<circle cx="262.2" cy="416.7" r="1.5" fill="none" stroke="#1a1a1a" stroke-width="1.0"/>
<text x="242.5" y="426.10" font-family="Liberation Sans" font-size="5" font-weight="bold" fill="#1a1a1a" text-anchor="start"  textLength="24.5" lengthAdjust="spacingAndGlyphs">就地: 远程关</text>
<rect x="242.7" y="429.4" width="22.7" height="12.6" fill="none" stroke="#1a1a1a" stroke-width="1.5" />
<text x="246.8" y="440.86" font-family="Liberation Serif" font-size="13.5" font-weight="bold" fill="#1a1a1a" text-anchor="start"  textLength="14.6" lengthAdjust="spacingAndGlyphs">50%</text>
<text x="246.5" y="448.30" font-family="Liberation Sans" font-size="5" font-weight="bold" fill="#1a1a1a" text-anchor="start"  textLength="14" lengthAdjust="spacingAndGlyphs">远方控制</text>
<text x="241.5" y="463.12" font-family="Liberation Sans" font-size="7" font-weight="bold" fill="#1a1a1a" text-anchor="start"  textLength="26" lengthAdjust="spacingAndGlyphs">液晶显示屏</text>
<text x="546.5" y="124.06" font-family="Liberation Sans" font-size="8.5" font-weight="bold" fill="#1a1a1a" text-anchor="start"  textLength="28" lengthAdjust="spacingAndGlyphs">ESD控制</text>
<circle cx="477.9" cy="139.7" r="4.9" fill="none" stroke="#1a1a1a" stroke-width="1.3"/>
<circle cx="477.9" cy="150.7" r="4.9" fill="none" stroke="#1a1a1a" stroke-width="1.3"/>
<text x="474.5" y="142.40" font-family="Liberation Serif" font-size="7.5" font-weight="bold" fill="#1a1a1a" text-anchor="start" stroke="#1a1a1a" stroke-width="0.2" textLength="6.8" lengthAdjust="spacingAndGlyphs">12</text>
<text x="474.5" y="153.40" font-family="Liberation Serif" font-size="7.5" font-weight="bold" fill="#1a1a1a" text-anchor="start" stroke="#1a1a1a" stroke-width="0.2" textLength="6.8" lengthAdjust="spacingAndGlyphs">16</text>
<line x1="482.79999999999995" y1="139.7" x2="505.0" y2="139.7" stroke="#1a1a1a" stroke-width="1.2" />
<line x1="504.5" y1="141.2" x2="511.7" y2="138.0" stroke="#1a1a1a" stroke-width="1.2" />
<polyline points="511.4,139.7 534.9,139.7 534.9,150.7 482.79999999999995,150.7" fill="none" stroke="#1a1a1a" stroke-width="1.3" stroke-linejoin="miter" />
<text x="512.5" y="137.30" font-family="Liberation Serif" font-size="7.5" font-weight="bold" fill="#1a1a1a" text-anchor="start"  textLength="9.4" lengthAdjust="spacingAndGlyphs">ESD</text>
<circle cx="600.5" cy="139.7" r="4.9" fill="none" stroke="#1a1a1a" stroke-width="1.3"/>
<circle cx="600.5" cy="150.7" r="4.9" fill="none" stroke="#1a1a1a" stroke-width="1.3"/>
<text x="597.1" y="142.40" font-family="Liberation Serif" font-size="7.5" font-weight="bold" fill="#1a1a1a" text-anchor="start" stroke="#1a1a1a" stroke-width="0.2" textLength="6.8" lengthAdjust="spacingAndGlyphs">12</text>
<text x="597.1" y="153.40" font-family="Liberation Serif" font-size="7.5" font-weight="bold" fill="#1a1a1a" text-anchor="start" stroke="#1a1a1a" stroke-width="0.2" textLength="6.8" lengthAdjust="spacingAndGlyphs">16</text>
<line x1="605.4" y1="139.7" x2="629.0" y2="139.7" stroke="#1a1a1a" stroke-width="1.2" />
<path d="M629.0,139.7 L629.0,137.4 L635.5,139.7" fill="none" stroke="#1a1a1a" stroke-width="1.2" />
<polyline points="635.5,139.7 658.0,139.7 658.0,150.7 605.4,150.7" fill="none" stroke="#1a1a1a" stroke-width="1.3" stroke-linejoin="miter" />
<text x="636.7" y="137.90" font-family="Liberation Serif" font-size="7.5" font-weight="bold" fill="#1a1a1a" text-anchor="start"  textLength="9.2" lengthAdjust="spacingAndGlyphs">ESD</text>
<text x="468.6" y="172.62" font-family="Liberation Sans" font-size="9.5" font-weight="bold" fill="#1a1a1a" text-anchor="start"  textLength="76.8" lengthAdjust="spacingAndGlyphs">ESD控制，高电平有效</text>
<text x="590" y="173.42" font-family="Liberation Sans" font-size="9.5" font-weight="bold" fill="#1a1a1a" text-anchor="start"  textLength="76.8" lengthAdjust="spacingAndGlyphs">ESD控制，低电平有效</text>
<text x="447.1" y="241.23" font-family="Liberation Sans" font-size="7.3" font-weight="bold" fill="#1a1a1a" text-anchor="start"  textLength="90" lengthAdjust="spacingAndGlyphs">注：1.总线协议为profibus-DP。</text>
<text x="459.1" y="251.63" font-family="Liberation Sans" font-size="7.3" font-weight="bold" fill="#1a1a1a" text-anchor="start"  textLength="238.6" lengthAdjust="spacingAndGlyphs">2.当电装处于总线的终端位置时，须将接线叠上“1”与“3”短接，“2”与“6”短接。</text>
<text x="459.1" y="261.33" font-family="Liberation Sans" font-size="7.3" font-weight="bold" fill="#1a1a1a" text-anchor="start"  textLength="83.6" lengthAdjust="spacingAndGlyphs">3.图中ESD控制为高电平有效。</text>
<text x="470.8" y="301.02" font-family="Liberation Sans" font-size="7.0" font-weight="bold" fill="#1a1a1a" text-anchor="start"  textLength="24.5" lengthAdjust="spacingAndGlyphs">现场条件</text>
<text x="569.6" y="301.02" font-family="Liberation Sans" font-size="7.0" font-weight="bold" fill="#1a1a1a" text-anchor="start"  textLength="110.4" lengthAdjust="spacingAndGlyphs">推荐接法（默认其中2芯作为信号线）</text>
<text x="444.2" y="313.52" font-family="Liberation Sans" font-size="7.0" font-weight="bold" fill="#1a1a1a" text-anchor="start"  textLength="104" lengthAdjust="spacingAndGlyphs">1.可能存在雷击（如空中架线情况）；</text>
<text x="451.1" y="324.82" font-family="Liberation Sans" font-size="7.0" font-weight="bold" fill="#1a1a1a" text-anchor="start"  textLength="114" lengthAdjust="spacingAndGlyphs">可能存在较高的共模干扰（通讯距离长）</text>
<text x="444.2" y="336.22" font-family="Liberation Sans" font-size="7.0" font-weight="bold" fill="#1a1a1a" text-anchor="start"  textLength="112" lengthAdjust="spacingAndGlyphs">2.无雷击可能：可能存在较高的共模干扰</text>
<text x="444.2" y="347.52" font-family="Liberation Sans" font-size="7.0" font-weight="bold" fill="#1a1a1a" text-anchor="start"  textLength="112" lengthAdjust="spacingAndGlyphs">3.可能存在雷击：无较高的共模干扰可能</text>
<text x="560.6" y="313.52" font-family="Liberation Sans" font-size="7.0" font-weight="bold" fill="#1a1a1a" text-anchor="start"  textLength="207" lengthAdjust="spacingAndGlyphs">采用3芯屏蔽线，其中一芯作为信号参考地与电装接线盘公共参考地端相连；</text>
<text x="560.6" y="324.82" font-family="Liberation Sans" font-size="7.0" font-weight="bold" fill="#1a1a1a" text-anchor="start"  textLength="133.8" lengthAdjust="spacingAndGlyphs">屏蔽线接电装接线盘的大地端子，终端接大地。</text>
<text x="560.6" y="336.22" font-family="Liberation Sans" font-size="7.0" font-weight="bold" fill="#1a1a1a" text-anchor="start"  textLength="215.4" lengthAdjust="spacingAndGlyphs">采用2芯屏蔽线，其中屏蔽线作为信号参考地与电装接线盘公共参考地端相连。</text>
<text x="560.6" y="347.52" font-family="Liberation Sans" font-size="7.0" font-weight="bold" fill="#1a1a1a" text-anchor="start"  textLength="178" lengthAdjust="spacingAndGlyphs">采用2芯屏蔽线，屏蔽线接电装接线盘的大地端子，终端接大地。</text>
</svg></body></html>
